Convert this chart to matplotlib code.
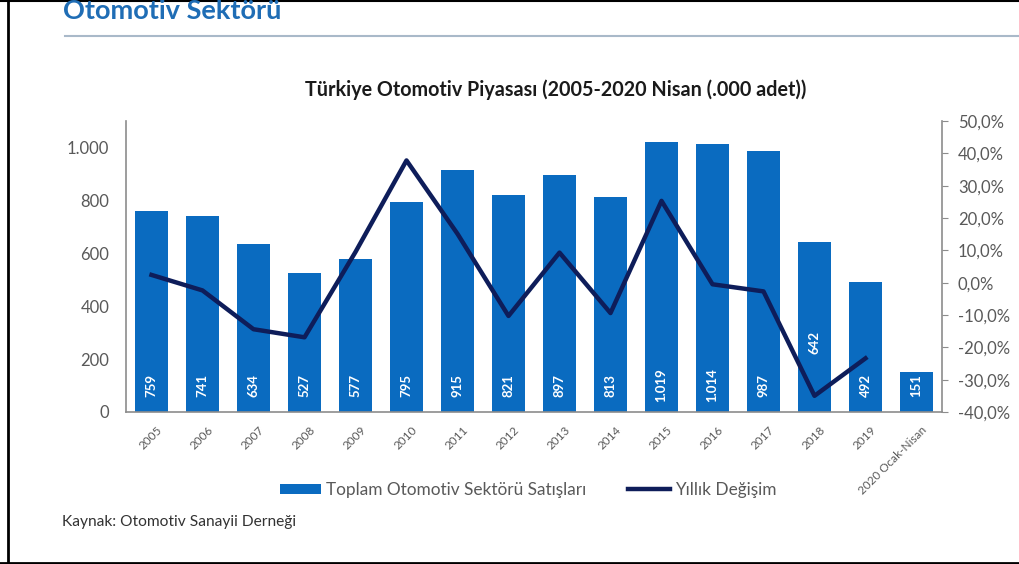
import matplotlib.pyplot as plt
import matplotlib.transforms as mtransforms
import numpy as np
from matplotlib.lines import Line2D

plt.rcParams['font.family'] = ['Lato', 'DejaVu Sans']

# data
years = ['2005', '2006', '2007', '2008', '2009', '2010', '2011', '2012',
         '2013', '2014', '2015', '2016', '2017', '2018', '2019', '2020 Ocak-Nisan']
sales = [759, 741, 634, 527, 577, 795, 915, 821, 897, 813, 1019, 1014, 987, 642, 492, 151]
change = [2.4, -2.4, -14.4, -16.9, 9.5, 37.8, 15.1, -10.3, 9.3, -9.4, 25.3, -0.5, -2.7,
          -35.0, -23.4, np.nan]
left_ticks = [0, 200, 400, 600, 800, 1000]
right_ticks = [-40, -30, -20, -10, 0, 10, 20, 30, 40, 50]

bar_color = '#0A6BC0'
line_color = '#0E1D5A'
grey = '#595959'
spine_grey = '#8C8C8C'

fig = plt.figure(figsize=(10.19, 5.64), dpi=100)
ax = fig.add_axes([126 / 1019, 1 - 412 / 564, 816 / 1019, 291 / 564])
x = np.arange(len(years))

bars = ax.bar(x, sales, width=0.63, color=bar_color, zorder=2)
for i, v in enumerate(sales):
    txt = f'{v:,}'.replace(',', '.')
    ypos = 262 if years[i] == '2018' else 100
    ax.text(i, ypos, txt, rotation=90, ha='center', va='center', color='white',
            fontsize=9.5, fontweight='bold', zorder=3)

ax.set_xlim(-0.5, len(years) - 0.5)
ax.set_ylim(0, 1100)
ax.set_yticks(left_ticks)
ax.set_yticklabels([f'{t:,}'.replace(',', '.') for t in left_ticks])
ax.tick_params(axis='y', length=0, pad=12, labelsize=12, labelcolor=grey)
ax.set_xticks(x)
ax.set_xticklabels(years, rotation=45, ha='right', rotation_mode='anchor')
ax.tick_params(axis='x', length=0, pad=9, labelsize=8.5, labelcolor=grey)
shift = mtransforms.ScaledTranslation(5 / 100, 0, fig.dpi_scale_trans)
for lab in ax.get_xticklabels():
    lab.set_transform(lab.get_transform() + shift)
for s in ['top', 'right']:
    ax.spines[s].set_visible(False)
for s in ['left', 'bottom']:
    ax.spines[s].set_color(spine_grey)
    ax.spines[s].set_linewidth(1.2)

ax2 = ax.twinx()
ax2.plot(x, change, color=line_color, linewidth=3.2, zorder=4)
ax2.set_ylim(-40, 50)
ax2.set_yticks(right_ticks)
ax2.set_yticklabels([f'{t:.1f}%'.replace('.', ',') for t in right_ticks])
ax2.tick_params(axis='y', length=4.5, color=spine_grey, labelsize=12, labelcolor=grey, pad=7)
for s in ['top', 'left', 'bottom']:
    ax2.spines[s].set_visible(False)
ax2.spines['right'].set_color(spine_grey)
ax2.spines['right'].set_linewidth(1.2)

# header and titles
fig.text(63 / 1019, 1 - 11 / 564, 'Otomotiv Sektörü', fontsize=19.5, fontweight='bold',
         color='#1F6DB5', va='center', ha='left')
fig.add_artist(Line2D([65 / 1019, 1.0], [1 - 36 / 564] * 2, color='#A9B9C9', linewidth=1.5))
fig.text(556 / 1019, 1 - 90 / 564, 'Türkiye Otomotiv Piyasası (2005-2020 Nisan (.000 adet))',
         fontsize=14.2, fontweight='bold', color='#1A1A1A', ha='center', va='center')
fig.text(62 / 1019, 1 - 522 / 564, 'Kaynak: Otomotiv Sanayii Derneği', fontsize=11.2,
         color='#333333', ha='left', va='center')

# legend
handles = [bars, Line2D([], [], color=line_color, linewidth=3.2)]
fig.legend(handles, ['Toplam Otomotiv Sektörü Satışları', 'Yıllık Değişim'],
           loc='center', bbox_to_anchor=(528 / 1019, 1 - 490 / 564), ncol=2, frameon=False,
           fontsize=12.4, handlelength=2.4, handleheight=0.5, handletextpad=0.3,
           columnspacing=2.45, labelcolor=grey)

# page border
fig.add_artist(Line2D([8 / 1019, 8 / 1019], [0, 1], color='black', linewidth=2))
fig.add_artist(Line2D([0, 1], [1 / 564, 1 / 564], color='black', linewidth=2))
fig.add_artist(Line2D([0, 1], [1 - 1 / 564, 1 - 1 / 564], color='black', linewidth=1.5))

fig.savefig('out.png', dpi=100)
